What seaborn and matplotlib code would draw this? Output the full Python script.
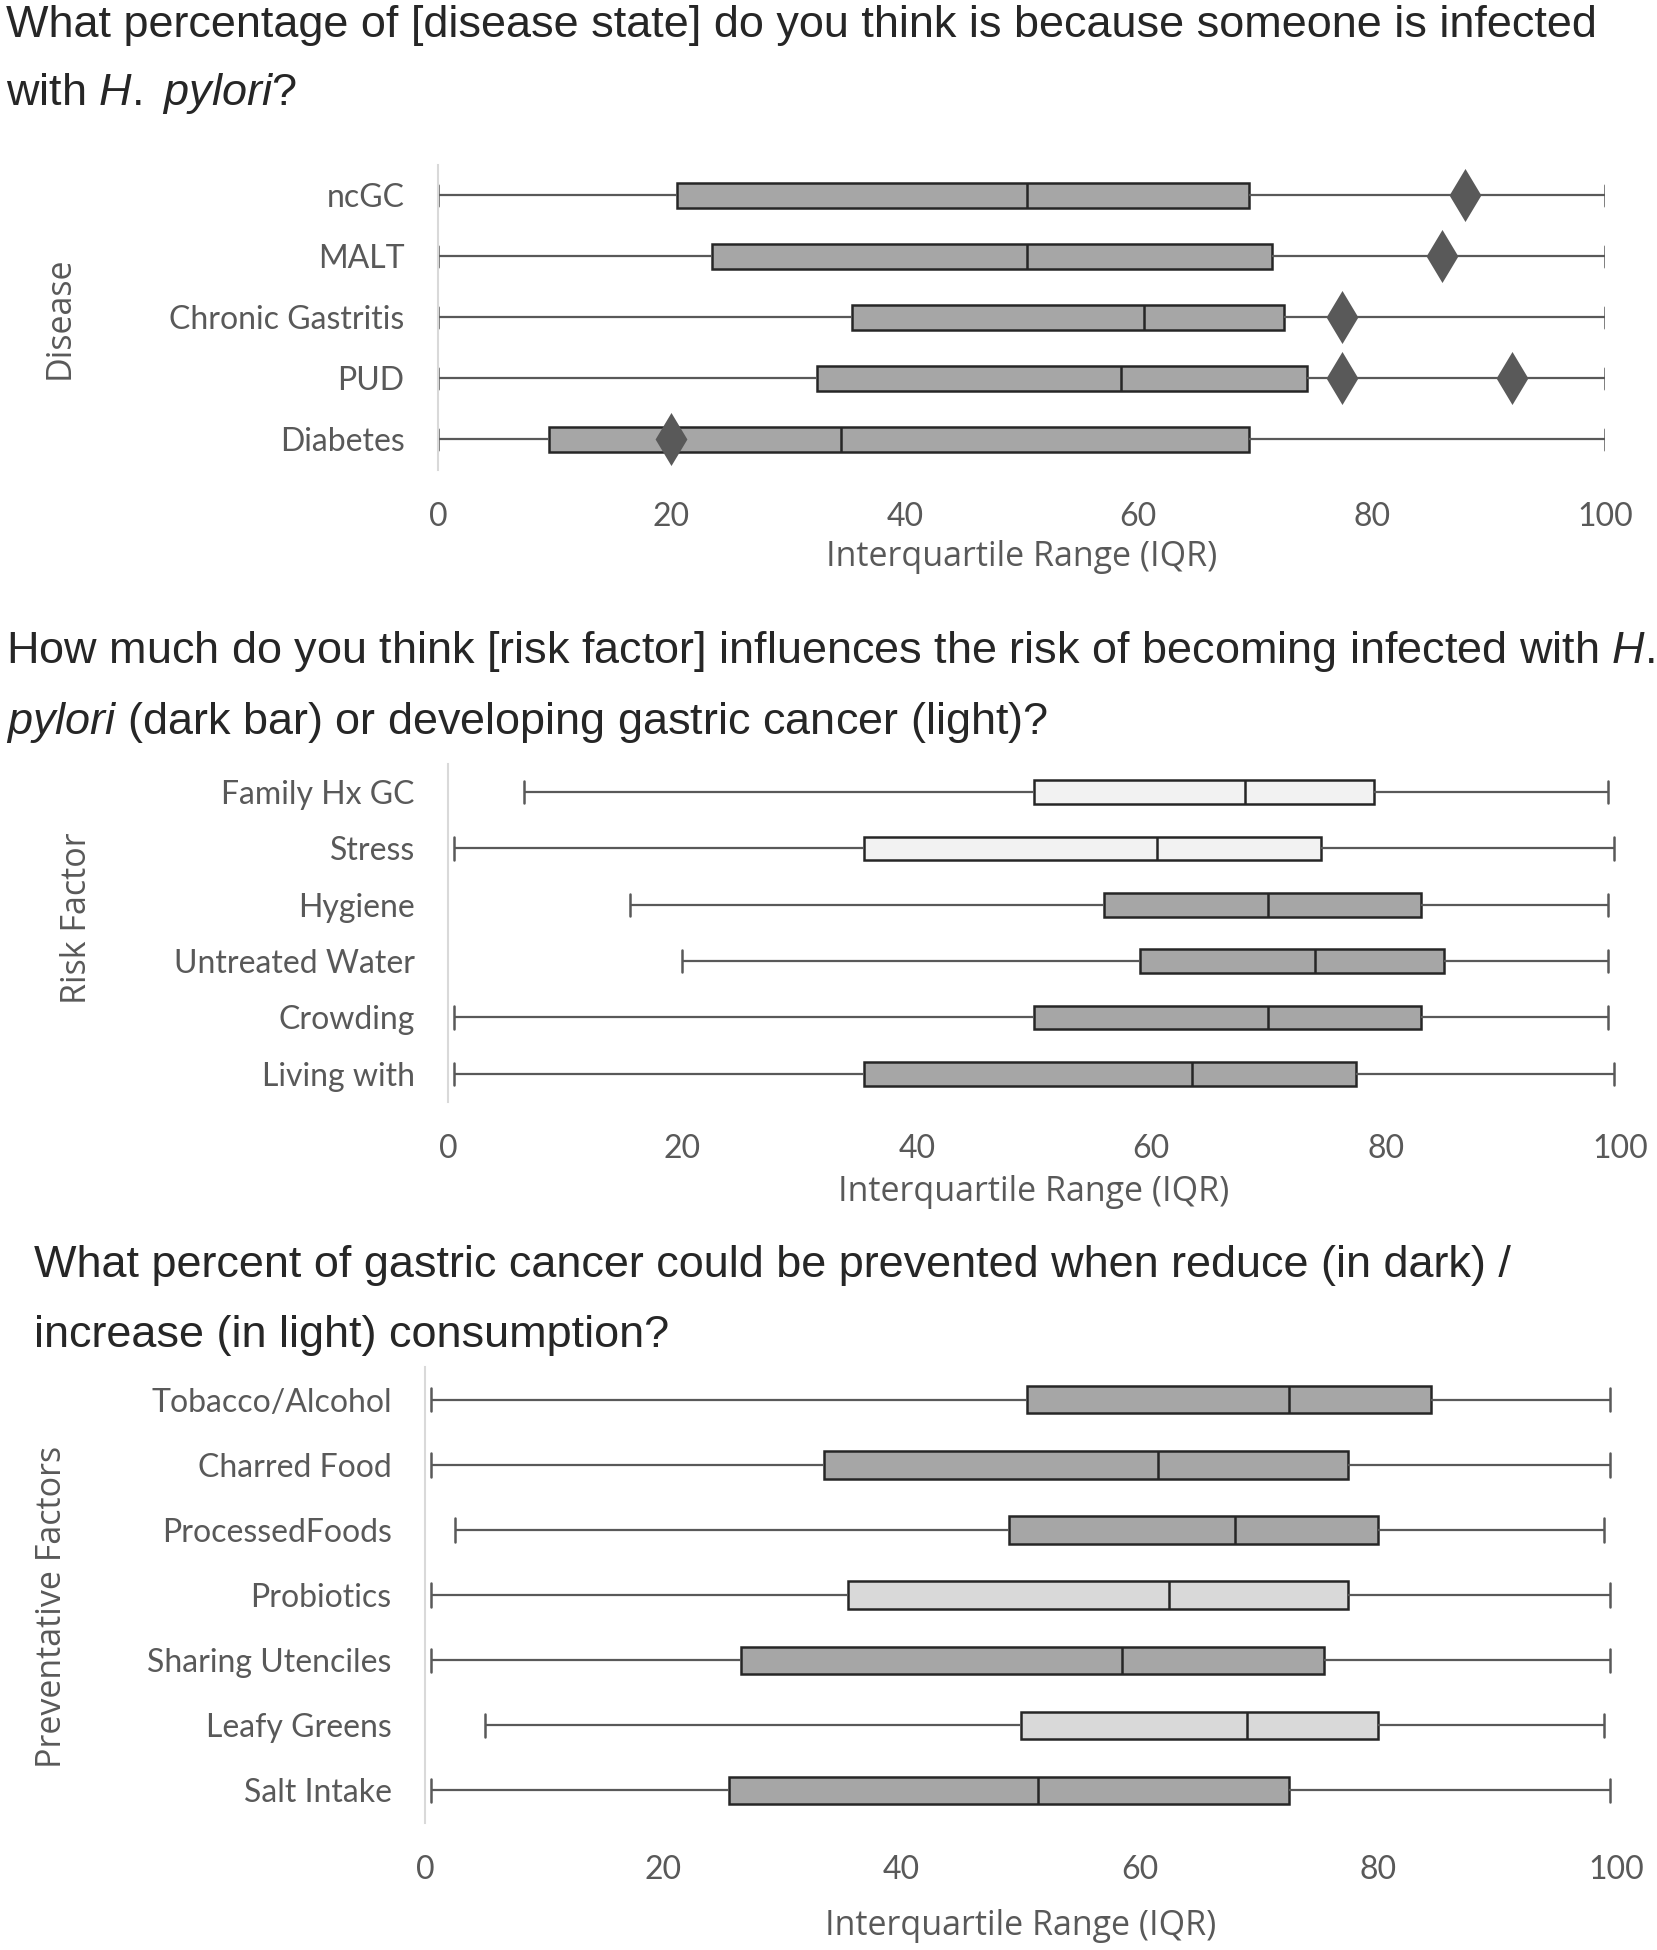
import pandas as pd
import matplotlib.pyplot as plt
import seaborn as sns

# panel 1: disease
dis_labels = ['ncGC', 'MALT', 'Chronic Gastritis', 'PUD', 'Diabetes']
dis_min = [0, 0, 0, 0, 0]
dis_q1 = [20.5, 23.5, 35.5, 32.5, 9.5]
dis_med = [50.5, 50.5, 60.5, 58.5, 34.5]
dis_q3 = [69.5, 71.5, 72.5, 74.5, 69.5]
dis_max = [100, 100, 100, 100, 100]
dis_shade = ['dark', 'dark', 'dark', 'dark', 'dark']
dis_out_cat = ['ncGC', 'MALT', 'Chronic Gastritis', 'PUD', 'PUD', 'Diabetes']
dis_out_val = [88, 86, 77.5, 77.5, 92, 20]

# panel 2: risk factor
risk_labels = ['Family Hx GC', 'Stress', 'Hygiene', 'Untreated Water', 'Crowding', 'Living with']
risk_min = [6.5, 0.5, 15.5, 20, 0.5, 0.5]
risk_q1 = [50, 35.5, 56, 59, 50, 35.5]
risk_med = [68, 60.5, 70, 74, 70, 63.5]
risk_q3 = [79, 74.5, 83, 85, 83, 77.5]
risk_max = [99, 99.5, 99, 99, 99, 99.5]
risk_shade = ['light', 'light', 'dark', 'dark', 'dark', 'dark']

# panel 3: preventative factors
prev_labels = ['Tobacco/Alcohol', 'Charred Food', 'ProcessedFoods', 'Probiotics',
               'Sharing Utenciles', 'Leafy Greens', 'Salt Intake']
prev_min = [0.5, 0.5, 2.5, 0.5, 0.5, 5, 0.5]
prev_q1 = [50.5, 33.5, 49, 35.5, 26.5, 50, 25.5]
prev_med = [72.5, 61.5, 68, 62.5, 58.5, 69, 51.5]
prev_q3 = [84.5, 77.5, 80, 77.5, 75.5, 80, 72.5]
prev_max = [99.5, 99.5, 99, 99.5, 99.5, 99, 99.5]
prev_shade = ['dark', 'dark', 'dark', 'light', 'dark', 'light', 'dark']

x_ticks = [0, 20, 40, 60, 80, 100]

sns.set_theme(style="white")
plt.rcParams['font.family'] = ['Liberation Sans', 'DejaVu Sans']
plt.rcParams['mathtext.fontset'] = 'custom'
plt.rcParams['mathtext.rm'] = 'Liberation Sans'
plt.rcParams['mathtext.it'] = 'Liberation Sans:italic'

TXT = '#595959'
TITLE = '#262626'
TICK_FS = 23
LABEL_FS = 24.5


def draw_panel(ax, labels, mins, q1s, meds, q3s, maxs, shades, light_color,
               ylabel, ylab_pos, xlabpad, capw):
    rows = []
    for lab, a, b, c, d, e in zip(labels, mins, q1s, meds, q3s, maxs):
        for v in (a, b, c, d, e):
            rows.append({'factor': lab, 'value': v})
    df = pd.DataFrame(rows)
    pal = {lab: ('#a6a6a6' if s == 'dark' else light_color) for lab, s in zip(labels, shades)}
    sns.boxplot(data=df, x='value', y='factor', hue='factor', order=labels, palette=pal,
                legend=False, whis=(0, 100), width=0.42, ax=ax, capwidths=capw,
                boxprops=dict(edgecolor='#262626', linewidth=1.8),
                medianprops=dict(color='#262626', linewidth=1.8),
                whiskerprops=dict(color=TXT, linewidth=1.6),
                capprops=dict(color=TXT, linewidth=1.8))
    ax.set_xlim(0, 100)
    ax.set_xticks(x_ticks)
    ax.tick_params(axis='x', length=0, pad=23, labelsize=TICK_FS, labelcolor=TXT)
    ax.tick_params(axis='y', length=0, pad=24, labelsize=TICK_FS, labelcolor=TXT)
    for t in ax.get_xticklabels() + ax.get_yticklabels():
        t.set_family(['Lato', 'DejaVu Sans'])
    ax.set_xlabel('Interquartile Range (IQR)', fontsize=LABEL_FS, color=TXT,
                  family='Open Sans', labelpad=xlabpad)
    ax.set_ylabel(ylabel, fontsize=LABEL_FS, color=TXT, family='Open Sans')
    ax.yaxis.set_label_coords(*ylab_pos)
    sns.despine(ax=ax, top=True, right=True, bottom=True)
    ax.spines['left'].set_color('#d9d9d9')
    ax.spines['left'].set_linewidth(1.5)


fig = plt.figure(figsize=(16.57, 19.5), dpi=100)

ax1 = fig.add_axes([0.2643, 0.759, 0.7043, 0.1564])
draw_panel(ax1, dis_labels, dis_min, dis_q1, dis_med, dis_q3, dis_max, dis_shade,
           '#f2f2f2', 'Disease', (-0.31, 0.5), 6, 0.34)
sns.stripplot(x=dis_out_val, y=dis_out_cat, order=dis_labels, jitter=False, marker='d',
              size=27, color='#595959', linewidth=0, ax=ax1)
ax1.set_xlim(0, 100)

ax2 = fig.add_axes([0.2704, 0.4349, 0.7073, 0.1733])
draw_panel(ax2, risk_labels, risk_min, risk_q1, risk_med, risk_q3, risk_max, risk_shade,
           '#f2f2f2', 'Risk Factor', (-0.302, 0.544), 8, 0.4)

ax3 = fig.add_axes([0.2565, 0.0651, 0.7188, 0.2338])
draw_panel(ax3, prev_labels, prev_min, prev_q1, prev_med, prev_q3, prev_max, prev_shade,
           '#d9d9d9', 'Preventative Factors', (-0.299, 0.474), 17, 0.36)

title_specs = [
    (6, 26, 'What percentage of [disease state] do you think is because someone is infected'),
    (6, 93, r'with $\mathit{H.}$ $\mathit{pylori}$?'),
    (6, 651, r'How much do you think [risk factor] influences the risk of becoming infected with $\mathit{H.}$'),
    (6, 722, r'$\mathit{pylori}$ (dark bar) or developing gastric cancer (light)?'),
    (34, 1266, 'What percent of gastric cancer could be prevented when reduce (in dark) /'),
    (34, 1335, 'increase (in light) consumption?'),
]
titles = []
for x_px, y_px, s in title_specs:
    titles.append(fig.text(x_px / 1657, 1 - y_px / 1950, s, ha='left', va='center',
                           fontsize=30, color=TITLE))

# the reference titles use a condensed face; fit the size to the first line's width
fig.canvas.draw()
w = titles[0].get_window_extent(fig.canvas.get_renderer()).width
fs = 30 * 1589 / w
for t in titles:
    t.set_fontsize(fs)

fig.savefig('out.png', dpi=100)
